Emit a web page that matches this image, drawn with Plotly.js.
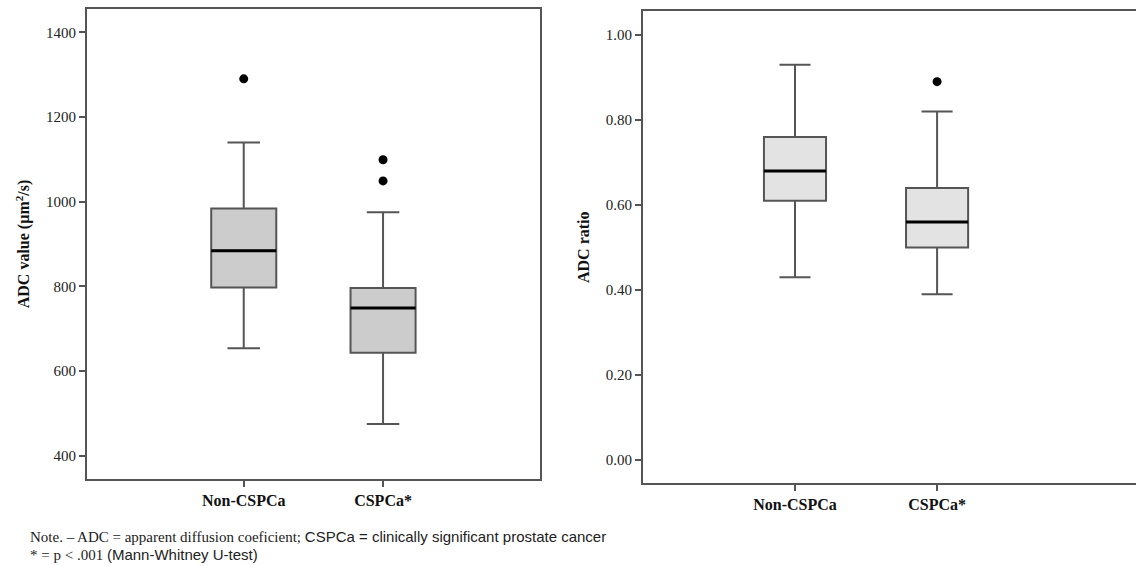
<!DOCTYPE html>
<html>
<head>
<meta charset="utf-8">
<script src="https://cdn.plot.ly/plotly-3.0.1.min.js"></script>
<style>html,body{margin:0;padding:0;background:#fff;}#chart{width:1136px;height:566px;}</style>
</head>
<body>
<div id="chart"></div>
<script>
// Categories
const categories = ["Non-CSPCa", "CSPCa*"];

// Left panel: ADC value (µm²/s)
const adcLowerFence = [654, 475];
const adcQ1 = [797, 643];
const adcMedian = [884, 749];
const adcQ3 = [984, 796];
const adcUpperFence = [1140, 975];
const adcOutlierCats = ["Non-CSPCa", "CSPCa*", "CSPCa*"];
const adcOutliers = [1290, 1099, 1049];

// Right panel: ADC ratio
const ratioLowerFence = [0.43, 0.39];
const ratioQ1 = [0.61, 0.50];
const ratioMedian = [0.68, 0.56];
const ratioQ3 = [0.76, 0.64];
const ratioUpperFence = [0.93, 0.82];
const ratioOutlierCats = ["CSPCa*"];
const ratioOutliers = [0.89];

const serif = "Liberation Serif, Times New Roman, serif";
const sans = "Liberation Sans, Arial, sans-serif";
const frame = "#555555";

function boxTrace(q1, med, q3, lo, hi, fill, xa, ya, w) {
  return {
    type: "box", x: categories, q1: q1, median: med, q3: q3,
    lowerfence: lo, upperfence: hi,
    fillcolor: fill, line: {color: "#555555", width: 2},
    whiskerwidth: 0.5, width: w, boxpoints: false,
    xaxis: xa, yaxis: ya, hoverinfo: "skip", showlegend: false
  };
}
function medianTrace(med, xa, ya, w) {
  return {
    type: "box", x: categories, q1: med, median: med, q3: med,
    lowerfence: med, upperfence: med,
    fillcolor: "rgba(0,0,0,0)", line: {color: "#000000", width: 3},
    whiskerwidth: 0, width: w, boxpoints: false,
    xaxis: xa, yaxis: ya, hoverinfo: "skip", showlegend: false
  };
}
function outlierTrace(cats, vals, xa, ya) {
  return {
    type: "scatter", mode: "markers", x: cats, y: vals,
    marker: {color: "#000000", size: 9},
    xaxis: xa, yaxis: ya, hoverinfo: "skip", showlegend: false
  };
}

const wL = 0.467, wR = 0.437;
const data = [
  boxTrace(adcQ1, adcMedian, adcQ3, adcLowerFence, adcUpperFence, "#cccccc", "x", "y", wL),
  medianTrace(adcMedian, "x", "y", wL),
  outlierTrace(adcOutlierCats, adcOutliers, "x", "y"),
  boxTrace(ratioQ1, ratioMedian, ratioQ3, ratioLowerFence, ratioUpperFence, "#e3e3e3", "x2", "y2", wR),
  medianTrace(ratioMedian, "x2", "y2", wR),
  outlierTrace(ratioOutlierCats, ratioOutliers, "x2", "y2")
];

const tickFont = {family: serif, size: 15, color: "#222222"};
const xTickFont = {family: serif, size: 16, color: "#111111", weight: "bold"};

const layout = {
  width: 1136, height: 566,
  margin: {l: 0, r: 0, t: 0, b: 0},
  paper_bgcolor: "#ffffff", plot_bgcolor: "#ffffff",
  showlegend: false,
  boxmode: "overlay",
  xaxis: {
    domain: [0.0766, 0.4754], anchor: "y",
    type: "category", categoryorder: "array", categoryarray: categories,
    range: [-1.125, 2.127],
    showline: true, linecolor: frame, linewidth: 2, mirror: true,
    ticks: "outside", ticklen: 6, tickcolor: frame, tickwidth: 2,
    showgrid: false, zeroline: false,
    tickfont: xTickFont
  },
  yaxis: {
    domain: [0.1537, 0.9841], anchor: "x",
    range: [345, 1455], tick0: 400, dtick: 200,
    showline: true, linecolor: frame, linewidth: 2, mirror: true,
    ticks: "outside", ticklen: 6, tickcolor: frame, tickwidth: 2,
    showgrid: false, zeroline: false,
    tickfont: tickFont,
    title: {text: "<b>ADC value (µm<sup>2</sup>/s)</b>", font: {family: serif, size: 16, color: "#111111"}, standoff: 12}
  },
  xaxis2: {
    domain: [0.566, 1.0], anchor: "y2",
    type: "category", categoryorder: "array", categoryarray: categories,
    range: [-1.07, 2.40],
    showline: true, linecolor: frame, linewidth: 2, mirror: true,
    ticks: "outside", ticklen: 6, tickcolor: frame, tickwidth: 2,
    showgrid: false, zeroline: false,
    tickfont: xTickFont
  },
  yaxis2: {
    domain: [0.1466, 0.9797], anchor: "x2",
    range: [-0.054, 1.055], tick0: 0, dtick: 0.2, tickformat: ".2f",
    showline: true, linecolor: frame, linewidth: 2, mirror: false,
    ticks: "outside", ticklen: 6, tickcolor: frame, tickwidth: 2,
    showgrid: false, zeroline: false,
    tickfont: tickFont,
    title: {text: "<b>ADC ratio</b>", font: {family: serif, size: 16, color: "#111111"}, standoff: 12}
  },
  annotations: [
    {
      xref: "paper", yref: "paper", x: 0.0246, y: (566 - 536) / 566,
      xanchor: "left", yanchor: "middle", showarrow: false, align: "left",
      text: "Note. – ADC = apparent diffusion coeficient; <span style=\"font-family:" + sans + "\">CSPCa = clinically significant prostate cancer</span>",
      font: {family: serif, size: 15, color: "#222222"}
    },
    {
      xref: "paper", yref: "paper", x: 0.0246, y: (566 - 554) / 566,
      xanchor: "left", yanchor: "middle", showarrow: false, align: "left",
      text: "* = p < .001 <span style=\"font-family:" + sans + "\">(Mann-Whitney U-test)</span>",
      font: {family: serif, size: 15, color: "#222222"}
    }
  ]
};

Plotly.newPlot("chart", data, layout, {staticPlot: true, displayModeBar: false});
</script>
</body>
</html>
